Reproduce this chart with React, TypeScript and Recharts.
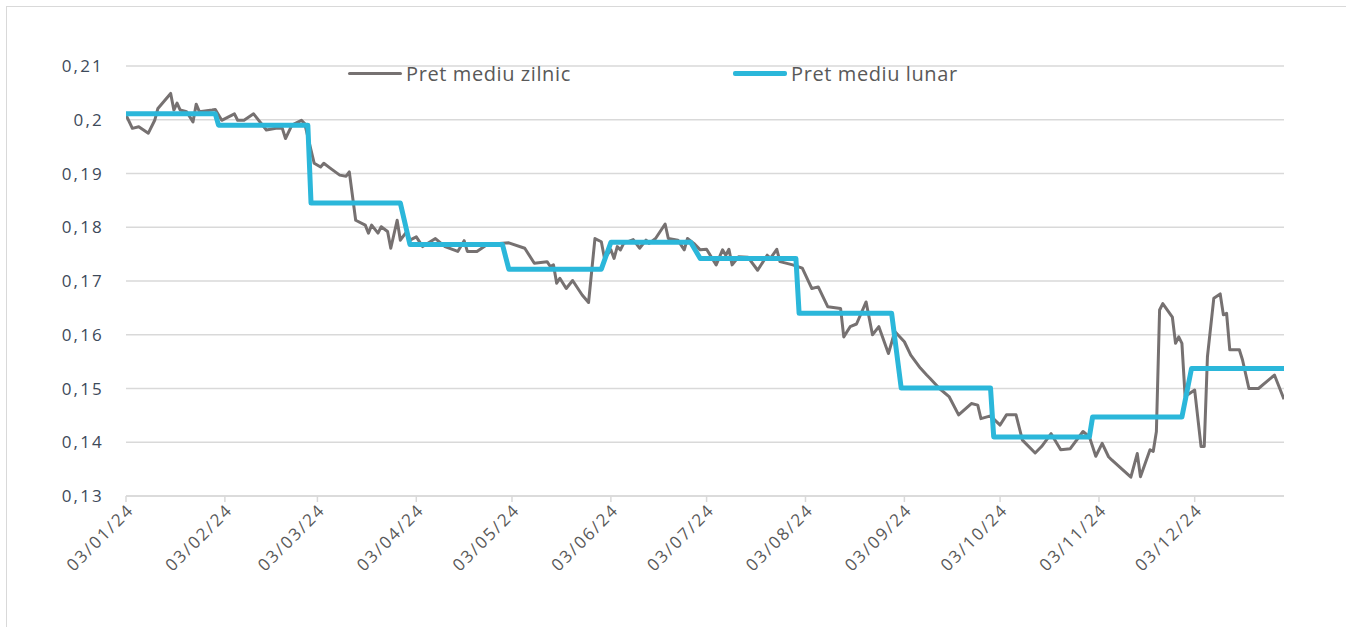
import { CartesianGrid, Legend, Line, LineChart, XAxis, YAxis } from "recharts"

// days counted from 03/01/24
const dailyDays = [
  0, 2, 4, 7, 9, 10, 14, 15, 16, 17, 19, 21, 22, 23, 27, 28, 30, 34, 35, 37, 40, 44, 47, 49, 50, 52, 55, 56,
  59, 61, 62, 64, 67, 69, 70, 72, 75, 76, 77, 79, 80, 82, 83, 85, 86, 88, 89, 91, 93, 97, 100, 104, 106, 107,
  110, 113, 117, 120, 125, 128, 132, 133, 134, 135, 136, 138, 140, 143, 145, 147, 149, 150, 152, 153, 154,
  155, 156, 159, 161, 163, 164, 166, 169, 170, 173, 175, 176, 178, 180, 182, 185, 187, 188, 189, 190, 192,
  195, 198, 201, 202, 204, 205, 209, 212, 215, 217, 220, 224, 225, 227, 229, 232, 234, 236, 239, 241, 244,
  246, 249, 251, 252, 255, 258, 261, 265, 267, 268, 271, 274, 276, 279, 281, 285, 287, 290, 293, 296, 300,
  302, 304, 306, 308, 309, 315, 317, 318, 321, 322, 323, 324, 325, 328, 329, 330, 331, 332, 335, 337, 338,
  339, 341, 343, 344, 345, 346, 349, 350, 352, 355, 360, 363,
]
const dailyPrice = [
  0.2009, 0.1984, 0.1987, 0.1975, 0.1999, 0.2021, 0.2049, 0.2018, 0.2031, 0.2018, 0.2015, 0.1996, 0.2029,
  0.2015, 0.2018, 0.2019, 0.1999, 0.2011, 0.1999, 0.1999, 0.2011, 0.1981, 0.1984, 0.1984, 0.1965, 0.199,
  0.1999, 0.1993, 0.1919, 0.1912, 0.1919, 0.191, 0.1897, 0.1895, 0.1903, 0.1813, 0.1804, 0.1789, 0.1804,
  0.1789, 0.1801, 0.1792, 0.1761, 0.1813, 0.1776, 0.1792, 0.1776, 0.1782, 0.1764, 0.1779, 0.1764, 0.1755,
  0.1775, 0.1755, 0.1755, 0.1767, 0.177, 0.1771, 0.1761, 0.1733, 0.1736, 0.1727, 0.173, 0.1696, 0.1705,
  0.1686, 0.1701, 0.1674, 0.166, 0.1779, 0.1773, 0.1742, 0.1758, 0.1742, 0.1764, 0.1758, 0.177, 0.1777,
  0.1761, 0.1776, 0.177, 0.1779, 0.1806, 0.1779, 0.1776, 0.1758, 0.1779, 0.177, 0.1758, 0.1759, 0.173,
  0.1758, 0.1748, 0.1759, 0.173, 0.1745, 0.1744, 0.172, 0.1748, 0.1742, 0.1759, 0.1736, 0.173, 0.1724,
  0.1686, 0.1689, 0.1652, 0.1649, 0.1596, 0.1615, 0.162, 0.1661, 0.16, 0.1615, 0.1565, 0.1606, 0.1587,
  0.1562, 0.1538, 0.1525, 0.1519, 0.15, 0.1485, 0.1451, 0.1472, 0.1469, 0.1444, 0.1449, 0.1432, 0.1451,
  0.1451, 0.1404, 0.138, 0.1392, 0.1416, 0.1386, 0.1388, 0.142, 0.141, 0.1374, 0.1398, 0.1373, 0.1367,
  0.1335, 0.1379, 0.1336, 0.1386, 0.1383, 0.142, 0.1646, 0.1658, 0.1633, 0.1584, 0.1596, 0.1584, 0.1485,
  0.1497, 0.1392, 0.1392, 0.1559, 0.1668, 0.1676, 0.1637, 0.164, 0.1572, 0.1572, 0.1553, 0.15, 0.15, 0.1525,
  0.148,
]

// first and last working day of each month
const monthlyDays = [
  0, 28, 29, 57, 58, 86, 89, 118, 120, 149, 152, 177, 180, 210, 211, 240, 243, 271, 272, 302, 303, 331, 334, 363,
]
const monthlyPrice = [
  0.2011, 0.2011, 0.199, 0.199, 0.1845, 0.1845, 0.1768, 0.1768, 0.1722, 0.1722, 0.1772, 0.1772, 0.1742,
  0.1742, 0.164, 0.164, 0.1501, 0.1501, 0.141, 0.141, 0.1447, 0.1447, 0.1537, 0.1537,
]

const tickDays = [0, 31, 60, 91, 121, 152, 182, 213, 244, 274, 305, 335]
const tickLabels = [
  "03/01/24", "03/02/24", "03/03/24", "03/04/24", "03/05/24", "03/06/24",
  "03/07/24", "03/08/24", "03/09/24", "03/10/24", "03/11/24", "03/12/24",
]
const yTicks = [0.13, 0.14, 0.15, 0.16, 0.17, 0.18, 0.19, 0.2, 0.21]

const dailyData = dailyDays.map((day, i) => ({ day, zilnic: dailyPrice[i] }))
const monthlyData = monthlyDays.map((day, i) => ({ day, lunar: monthlyPrice[i] }))

const FONT = "'Open Sans', sans-serif"
const GRAY = "#767171"
const BLUE = "#2bb7da"

const DateTick = ({ x, y, payload }: any) => {
  const label = tickLabels[tickDays.indexOf(payload.value)]
  return (
    <text
      transform={`translate(${x + 9},${y + 7}) rotate(-45)`}
      textAnchor="end"
      fill="#595959"
      fontSize={17}
      letterSpacing={2}
      fontFamily={FONT}
    >
      {label}
    </text>
  )
}

const LegendContent = () => {
  const items = [
    { left: 348, label: "Pret mediu zilnic", color: GRAY, thick: 3 },
    { left: 733, label: "Pret mediu lunar", color: BLUE, thick: 5 },
  ]
  return (
    <div style={{ position: "relative", height: 0 }}>
      {items.map((it) => (
        <div
          key={it.label}
          style={{ position: "absolute", left: it.left, top: 0, display: "flex", alignItems: "center", height: 26 }}
        >
          <span style={{ width: 54, height: it.thick, background: it.color, borderRadius: 2, marginRight: 4 }} />
          <span
            style={{ fontFamily: FONT, fontSize: 20, letterSpacing: 0.6, color: "#595959", whiteSpace: "nowrap" }}
          >
            {it.label}
          </span>
        </div>
      ))}
    </div>
  )
}

export default function App() {
  return (
    <div style={{ position: "absolute", left: 0, top: 0, width: 1346, height: 627, overflow: "hidden", background: "#fff" }}>
      <div
        style={{
          position: "absolute",
          left: 6,
          top: 6,
          width: 1400,
          height: 700,
          borderLeft: "1.5px solid #d9d9d9",
          borderTop: "1.5px solid #d9d9d9",
        }}
      />
      <div style={{ position: "absolute", left: 0, top: 0 }}>
        <LineChart width={1346} height={627} margin={{ top: 66, right: 62, bottom: 31, left: 66 }}>
          <CartesianGrid vertical={false} stroke="#d9d9d9" strokeWidth={1.5} />
          <XAxis
            type="number"
            dataKey="day"
            domain={[0, 363]}
            ticks={tickDays}
            interval={0}
            allowDataOverflow
            height={100}
            axisLine={{ stroke: "#d9d9d9", strokeWidth: 1.5 }}
            tickLine={{ stroke: "#d9d9d9", strokeWidth: 1.5 }}
            tickSize={6}
            tick={<DateTick />}
          />
          <YAxis
            type="number"
            domain={[0.13, 0.21]}
            ticks={yTicks}
            interval={0}
            allowDataOverflow
            width={60}
            axisLine={false}
            tickLine={false}
            tickSize={0}
            tickMargin={22}
            tick={{ fill: "#3d4a5a", fontSize: 17, letterSpacing: 2.2, fontFamily: FONT }}
            tickFormatter={(v: number) => String(Number(v.toFixed(2))).replace(".", ",")}
          />
          <Legend verticalAlign="top" wrapperStyle={{ top: 60, left: 0, width: 1346 }} content={<LegendContent />} />
          <Line
            data={dailyData}
            dataKey="zilnic"
            name="Pret mediu zilnic"
            type="linear"
            stroke={GRAY}
            strokeWidth={3}
            strokeLinejoin="round"
            dot={false}
            isAnimationActive={false}
          />
          <Line
            data={monthlyData}
            dataKey="lunar"
            name="Pret mediu lunar"
            type="linear"
            stroke={BLUE}
            strokeWidth={5}
            strokeLinejoin="round"
            dot={false}
            isAnimationActive={false}
          />
        </LineChart>
      </div>
    </div>
  )
}
